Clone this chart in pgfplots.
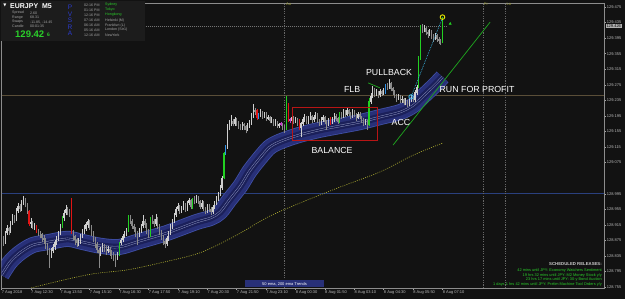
\documentclass[border=0pt]{standalone}
\usepackage{pgfplots}
\pgfplotsset{compat=1.18}
\usepackage{pgfplotstable}
\usepackage{fontspec}
\setmainfont{Liberation Sans}
\newfontfamily\dejavu{DejaVu Sans}

\definecolor{bgc}{HTML}{121212}
\definecolor{panel}{HTML}{1C1C1C}
\definecolor{cUp}{HTML}{CFCFCF}
\definecolor{cDn}{HTML}{8A8A8A}
\definecolor{cG}{HTML}{22D022}
\definecolor{cR}{HTML}{E01414}
\definecolor{cB}{HTML}{2E90E8}
\definecolor{cM}{HTML}{C040C8}
\definecolor{ribOut}{HTML}{283078}
\definecolor{ribIn}{HTML}{1B205A}
\definecolor{ribEdge}{HTML}{4050A6}
\definecolor{ribMid}{HTML}{9098C0}
\definecolor{emaY}{HTML}{B0B032}
\definecolor{hBrown}{HTML}{5A4E38}
\definecolor{hBlue}{HTML}{2A407E}
\definecolor{trendG}{HTML}{1FA81F}
\definecolor{boxR}{HTML}{B81515}
\definecolor{cyanC}{HTML}{3AB8E8}
\definecolor{yelC}{HTML}{E8E800}
\definecolor{tickc}{HTML}{BDBDBD}
\definecolor{pvsra}{HTML}{2C3CD0}
\definecolor{txtG}{HTML}{2AD02A}
\definecolor{olive}{HTML}{9A9A30}

\pgfplotsset{
  wick/.style 2 args={forget plot, mark=none, draw=#1,
    restrict expr to domain={\thisrow{k}}{#2:#2},
    quiver={u=0, v=\thisrow{h}-\thisrow{l}, every arrow/.append style={line width=0.5pt, draw=#1}},
    line width=0.5pt},
  body/.style 2 args={forget plot, mark=none, draw=#1,
    restrict expr to domain={\thisrow{k}}{#2:#2},
    quiver={u=0, v={abs(\thisrow{c}-\thisrow{o})+1}, every arrow/.append style={line width=1.15pt, draw=#1}},
    line width=1.15pt},
}

% price in units of 0.001 above 128.000 (e.g. 1475 = 129.475)
% k: 0 down, 1 up, 2 green, 3 red, 4 blue, 5 magenta
\pgfplotstableread{
i o h l c k
0 885 893 868 880 0
1 880 886 860 872 0
2 872 900 866 895 1
3 895 915 890 905 1
4 905 910 888 898 0
5 898 926 894 920 1
6 920 944 915 935 1
7 935 940 920 928 0
8 928 958 924 950 1
9 950 970 945 962 1
10 962 968 948 955 0
11 955 978 950 972 1
12 972 990 966 980 1
13 980 984 960 968 0
14 968 972 944 950 0
15 950 953 912 918 3
16 918 932 908 922 1
17 922 926 903 910 0
18 910 920 902 912 1
19 912 915 893 898 3
20 898 905 886 895 0
21 895 900 880 890 0
22 890 894 872 880 0
23 880 888 866 875 0
24 875 880 852 862 0
25 862 868 838 850 0
26 850 856 803 840 0
27 840 855 830 848 1
28 848 865 842 858 1
29 858 876 850 870 1
30 870 886 864 880 1
31 880 900 874 895 1
32 895 918 888 912 1
33 912 938 908 932 2
34 932 952 926 945 1
35 945 966 940 955 1
36 955 960 940 948 0
37 948 955 935 945 0
38 945 985 892 898 3
39 898 902 876 885 0
40 885 890 862 875 0
41 875 880 858 868 0
42 868 882 860 872 1
43 872 892 866 885 1
44 885 904 880 898 1
45 898 914 892 905 1
46 905 922 900 915 1
47 915 930 908 925 1
48 925 928 902 910 0
49 910 914 886 895 0
50 895 898 870 878 0
51 878 884 855 865 0
52 865 870 842 850 0
53 850 856 803 842 0
54 842 858 834 850 1
55 850 868 845 860 1
56 860 866 846 855 0
57 855 860 838 848 0
58 848 860 842 852 1
59 852 858 836 845 0
60 845 850 828 838 0
61 838 845 822 835 0
62 835 840 806 830 0
63 830 846 824 838 1
64 838 872 834 868 2
65 868 882 862 875 1
66 875 892 870 885 1
67 885 898 880 892 1
68 892 906 886 900 1
69 900 940 896 935 2
70 935 940 918 925 0
71 925 930 905 912 0
72 912 918 896 905 0
73 905 910 884 895 0
74 895 900 863 890 0
75 890 908 884 900 1
76 900 918 895 912 1
77 912 940 906 925 1
78 925 930 908 915 0
79 915 920 892 900 0
80 900 905 880 888 0
81 888 936 884 932 2
82 932 940 918 925 0
83 925 930 910 918 0
84 918 942 912 930 1
85 930 934 905 912 0
86 912 916 890 898 0
87 898 902 876 885 0
88 885 890 864 872 0
89 872 878 855 865 0
90 865 886 860 880 1
91 880 900 874 895 1
92 895 916 890 910 1
93 910 930 905 925 1
94 925 946 920 940 1
95 940 962 935 955 1
96 955 972 950 962 1
97 962 966 944 950 0
98 950 964 945 958 1
99 958 975 952 965 1
100 965 970 948 955 0
101 955 976 950 970 1
102 970 985 965 978 1
103 978 982 955 960 0
104 960 984 956 980 2
105 980 988 968 975 0
106 975 992 970 985 1
107 985 990 968 975 0
108 975 980 955 962 0
109 962 978 956 970 1
110 970 975 950 958 0
111 958 962 942 950 0
112 950 968 945 962 1
113 962 968 948 955 0
114 955 960 940 948 0
115 948 966 944 960 1
116 960 976 955 970 1
117 970 988 965 982 1
118 982 1000 976 992 1
119 992 1018 988 1010 1
120 1010 1040 1005 1035 1
121 1035 1102 1032 1098 2
122 1098 1120 1094 1115 4
123 1115 1175 1110 1165 1
124 1165 1185 1158 1172 1
125 1172 1197 1168 1180 1
126 1180 1188 1168 1175 0
127 1175 1192 1170 1185 1
128 1185 1190 1170 1178 0
129 1178 1182 1162 1170 0
130 1170 1175 1158 1165 0
131 1165 1180 1160 1172 1
132 1172 1178 1160 1168 0
133 1168 1172 1150 1160 0
134 1160 1176 1155 1170 1
135 1170 1184 1165 1175 1
136 1175 1202 1172 1195 1
137 1195 1225 1190 1210 1
138 1210 1216 1198 1205 0
139 1208 1212 1185 1190 3
140 1190 1202 1186 1196 4
141 1196 1212 1192 1205 1
142 1205 1208 1188 1195 0
143 1195 1206 1190 1200 1
144 1200 1204 1182 1188 0
145 1188 1198 1184 1192 1
146 1192 1196 1176 1182 0
147 1182 1192 1176 1185 1
148 1185 1188 1168 1175 0
149 1175 1186 1170 1178 1
150 1178 1182 1164 1170 0
151 1170 1178 1164 1172 1
152 1172 1180 1168 1175 5
153 1175 1178 1160 1168 0
154 1168 1172 1152 1165 0
155 1165 1245 1160 1230 2
156 1225 1228 1180 1185 3
157 1185 1190 1176 1182 5
158 1182 1196 1175 1190 1
159 1190 1194 1174 1180 0
160 1180 1192 1176 1185 1
161 1185 1190 1170 1178 0
162 1182 1186 1160 1165 3
163 1165 1180 1140 1175 1
164 1175 1192 1170 1185 1
165 1185 1200 1180 1192 1
166 1192 1196 1174 1180 0
167 1180 1195 1175 1188 1
168 1188 1204 1184 1195 1
169 1195 1198 1178 1185 0
170 1185 1198 1180 1190 1
171 1190 1206 1186 1198 1
172 1198 1202 1178 1185 0
173 1185 1188 1170 1178 0
174 1178 1192 1172 1185 1
175 1185 1198 1180 1192 1
176 1192 1195 1174 1180 0
177 1180 1184 1160 1175 0
178 1175 1190 1170 1182 1
179 1188 1192 1172 1178 3
180 1178 1192 1174 1185 1
181 1185 1202 1180 1195 1
182 1195 1200 1182 1188 0
183 1188 1192 1174 1180 0
184 1180 1205 1176 1200 2
185 1200 1206 1188 1195 0
186 1195 1212 1190 1205 1
187 1205 1210 1192 1198 0
188 1198 1215 1194 1208 1
189 1208 1212 1194 1200 0
190 1200 1206 1188 1195 0
191 1195 1212 1190 1205 1
192 1205 1210 1192 1198 0
193 1198 1202 1182 1190 0
194 1190 1206 1186 1200 1
195 1200 1204 1186 1192 0
196 1192 1196 1178 1185 0
197 1185 1190 1170 1178 0
198 1178 1188 1172 1182 1
199 1182 1185 1160 1172 0
200 1172 1240 1168 1232 2
201 1232 1255 1226 1245 1
202 1245 1272 1240 1262 1
203 1262 1266 1244 1250 0
204 1250 1264 1245 1255 1
205 1255 1260 1240 1248 0
206 1248 1265 1244 1258 1
207 1258 1262 1246 1252 0
208 1252 1268 1248 1260 1
209 1255 1278 1252 1272 4
210 1272 1280 1262 1268 0
211 1268 1290 1264 1278 1
212 1278 1282 1258 1265 0
213 1265 1270 1250 1258 0
214 1258 1262 1242 1248 0
215 1248 1252 1232 1240 0
216 1240 1252 1236 1245 1
217 1245 1248 1228 1235 0
218 1235 1245 1228 1238 1
219 1238 1242 1222 1228 0
220 1228 1240 1224 1232 1
221 1232 1236 1218 1225 0
222 1225 1242 1220 1235 1
223 1235 1248 1230 1240 1
224 1240 1246 1230 1236 0
225 1236 1262 1232 1255 1
226 1255 1275 1250 1268 1
227 1270 1350 1266 1345 2
228 1345 1428 1340 1420 2
229 1420 1432 1408 1415 0
230 1415 1428 1410 1420 1
231 1420 1424 1402 1410 0
232 1410 1416 1396 1405 0
233 1405 1418 1400 1412 1
234 1412 1415 1392 1400 0
235 1400 1406 1386 1395 0
236 1395 1408 1390 1402 1
237 1402 1406 1384 1392 0
238 1392 1398 1380 1388 0
239 1388 1394 1377 1385 0
240 1385 1449 1382 1426 2
}\candles

% EMA ribbon centre (bar index, price units)
\pgfplotstableread{
i m
0 786
4.6 819
10 843
17 863
26 871
36 879
44 871
54 861
64 858
75 873
90 894
106 922
114 933
119 948
124 979
130 1015
135 1053
141 1089
146 1115
152 1130
162 1146
173 1159
184 1169
195 1179
206 1192
217 1205
224 1222
230 1248
236 1275
240 1295
}\ribbon

% 200 EMA
\pgfplotstableread{
i v
13.9 750
31.8 771
49.8 789
68.3 799
86.3 817
108 843
127 886
145 935
162.4 971
184.2 1012
206 1051
224 1094
240 1125
}\emaslow

\begin{document}
\begin{tikzpicture}[x=1pt,y=1pt]
\fill[bgc] (0,0) rectangle (625,299);
\useasboundingbox (0,0) rectangle (625,299);
\begin{axis}[
  at={(1.5pt,11pt)}, anchor=south west, scale only axis,
  width=602.5pt, height=285pt,
  xmin=0, xmax=327.9, ymin=752.6, ymax=1485.3,
  axis line style={draw=black!45!white, line width=0.5pt},
  tick style={draw=black!35!white, line width=0.4pt},
  tick align=outside, major tick length=2pt,
  xtick pos=bottom, ytick pos=right, yticklabel pos=right,
  xtick={0,16,...,240},
  xticklabels={7 Aug 2018,7 Aug 12:30,7 Aug 13:50,7 Aug 15:10,7 Aug 16:30,7 Aug 17:50,7 Aug 19:10,7 Aug 20:30,7 Aug 21:50,7 Aug 23:10,8 Aug 00:30,8 Aug 01:50,8 Aug 03:10,8 Aug 04:30,8 Aug 05:50,8 Aug 07:10},
  ytick={755,795,835,875,915,955,995,1075,1115,1155,1195,1235,1275,1315,1355,1395,1435,1475},
  yticklabels={128.755,128.795,128.835,128.875,128.915,128.955,128.995,129.075,129.115,129.155,129.195,129.235,129.275,129.315,129.355,129.395,129.435,129.475},
  xticklabel style={anchor=north west, font=\fontsize{4}{4}\selectfont, text=tickc, inner sep=0.6pt, xshift=-0.5pt},
  yticklabel style={anchor=west, font=\fontsize{4}{4}\selectfont, text=tickc, inner sep=0.6pt},
]
% horizontal / vertical reference lines
\addplot[draw=hBrown, line width=0.6pt] coordinates {(0,1249) (327.9,1249)};
\addplot[draw=hBlue, line width=0.6pt] coordinates {(0,997) (327.9,997)};
\addplot[draw=black!55!white, line width=0.4pt, dash pattern=on 1pt off 1pt] coordinates {(0,1426) (242,1426)};
\addplot[draw=black!60!white, line width=0.4pt, dash pattern=on 1.2pt off 1.2pt] coordinates {(154,752.6) (154,1485.3)};
\addplot[draw=black!60!white, line width=0.4pt, dash pattern=on 1.2pt off 1.2pt] coordinates {(262,752.6) (262,1485.3)};
\addplot[draw=black!60!white, line width=0.4pt, dash pattern=on 1.2pt off 1.2pt] coordinates {(274,752.6) (274,1485.3)};

% EMA ribbon (stack of moving averages) drawn as layered bands
\addplot[draw=ribEdge, line width=16pt, smooth, line join=round] table[x=i, y=m]{\ribbon};
\addplot[draw=ribOut, line width=14.4pt, smooth, line join=round] table[x=i, y=m]{\ribbon};
\addplot[draw=ribIn, line width=7pt, smooth, line join=round] table[x=i, y=m]{\ribbon};
\addplot[draw=ribMid, line width=2.2pt, smooth, line join=round] table[x=i, y=m]{\ribbon};
\addplot[draw=ribIn, line width=1.4pt, smooth, line join=round] table[x=i, y=m]{\ribbon};

% 200 EMA dotted
\addplot[draw=emaY, line width=0.6pt, dash pattern=on 1pt off 1.2pt, smooth] table[x=i, y=v]{\emaslow};

% candles: wicks (low to high) and bodies (open to close)
\addplot[wick={cDn}{0}] table[x=i, y=l]{\candles};
\addplot[body={cDn}{0}] table[x=i, y expr={min(\thisrow{o},\thisrow{c})}]{\candles};
\addplot[wick={cUp}{1}] table[x=i, y=l]{\candles};
\addplot[body={cUp}{1}] table[x=i, y expr={min(\thisrow{o},\thisrow{c})}]{\candles};
\addplot[wick={cG}{2}] table[x=i, y=l]{\candles};
\addplot[body={cG}{2}] table[x=i, y expr={min(\thisrow{o},\thisrow{c})}]{\candles};
\addplot[wick={cR}{3}] table[x=i, y=l]{\candles};
\addplot[body={cR}{3}] table[x=i, y expr={min(\thisrow{o},\thisrow{c})}]{\candles};
\addplot[wick={cB}{4}] table[x=i, y=l]{\candles};
\addplot[body={cB}{4}] table[x=i, y expr={min(\thisrow{o},\thisrow{c})}]{\candles};
\addplot[wick={cM}{5}] table[x=i, y=l]{\candles};
\addplot[body={cM}{5}] table[x=i, y expr={min(\thisrow{o},\thisrow{c})}]{\candles};

% drawn objects
\addplot[draw=boxR, line width=0.7pt] coordinates {(158.1,1218) (204.4,1218) (204.4,1133) (158.1,1133) (158.1,1218)};
\addplot[draw=trendG, line width=0.7pt] coordinates {(213.1,1120) (265.9,1436)};
\addplot[draw=trendG, line width=0.7pt] coordinates {(199.5,1280) (206,1267)};
\addplot[draw=cyanC, line width=0.6pt, dash pattern=on 0.8pt off 0.9pt] coordinates {(222.9,1244) (240,1447)};
\addplot[only marks, mark=o, mark size=2.2pt, mark options={draw=cyanC, line width=0.8pt}] coordinates {(222.9,1244)};
\addplot[only marks, mark=o, mark size=2.3pt, mark options={draw=yelC, line width=0.9pt}] coordinates {(240,1449)};
\addplot[only marks, mark=triangle*, mark size=1.3pt, mark options={fill=cG, draw=cG}] coordinates {(244.2,1432)};

% labels
\node[text=white, font=\fontsize{8.8}{9}\selectfont] at (axis cs:190.8,1264) {FLB};
\node[text=white, font=\fontsize{8.8}{9}\selectfont] at (axis cs:210.9,1306) {PULLBACK};
\node[text=white, font=\fontsize{8.8}{9}\selectfont] at (axis cs:179.9,1107) {BALANCE};
\node[text=white, font=\fontsize{8.8}{9}\selectfont] at (axis cs:217.4,1179) {ACC};
\node[text=white, font=\fontsize{8.8}{9}\selectfont] at (axis cs:258.8,1263) {RUN FOR PROFIT};
\end{axis}

% top labels of vertical lines
\node[text=olive, font=\fontsize{4}{4}\selectfont, anchor=west, inner sep=0pt] at (286,295) {Au};
\node[text=olive, font=\fontsize{4}{4}\selectfont, anchor=west, inner sep=0pt] at (484,295) {Fr};
\node[text=olive, font=\fontsize{4}{4}\selectfont, anchor=west, inner sep=0pt] at (506.5,295) {Lo};

% current price box
\node[fill=black!30!white, text=black, font=\fontsize{4}{4}\selectfont, inner sep=0.8pt, anchor=west] at (605.5,273) {129.426};

% info panel
\fill[panel] (1,258) rectangle (145,298);
\node[text=white, font=\dejavu\fontsize{4}{4}\selectfont, inner sep=0pt] at (5,294) {▼};
\node[text=white, font=\bfseries\fontsize{7}{7}\selectfont, anchor=west, inner sep=0pt] at (10,293) {EURJPY\ \ M5};
\begin{scope}[every node/.style={text=black!35!white, font=\fontsize{3.6}{3.6}\selectfont, anchor=west, inner sep=0pt}]
\node at (12,286) {Spread}; \node at (30,286) {2.60};
\node at (12,281.5) {Range}; \node at (30,281.5) {68.31};
\node at (12,277) {Swaps}; \node at (30,277) {-11.85, -14.45};
\node at (12,272.5) {Candle}; \node at (30,272.5) {00:01:35};
\end{scope}
\node[text=txtG, font=\bfseries\fontsize{9.5}{9.5}\selectfont, anchor=west, inner sep=0pt] at (15,265) {129.42};
\node[text=txtG, font=\bfseries\fontsize{5}{5}\selectfont, anchor=west, inner sep=0pt] at (47,264) {6};
\begin{scope}[every node/.style={text=pvsra, font=\fontsize{6.5}{6.5}\selectfont, inner sep=0pt}]
\node at (70,292) {P}; \node at (70,285) {V}; \node at (70,278.5) {S}; \node at (70,272) {R}; \node at (70,265.5) {A};
\end{scope}
\begin{scope}[every node/.style={font=\fontsize{3.6}{3.6}\selectfont, anchor=west, inner sep=0pt}]
\node[text=black!35!white] at (84,294) {02:16 PM}; \node[text=txtG] at (105,294) {Sydney};
\node[text=black!35!white] at (84,289) {01:16 PM}; \node[text=txtG] at (105,289) {Tokyo};
\node[text=black!35!white] at (84,284) {12:16 PM}; \node[text=txtG] at (105,284) {Hongkong};
\node[text=black!35!white] at (84,278.5) {07:16 AM}; \node[text=black!35!white] at (105,278.5) {Helsinki (M)};
\node[text=black!35!white] at (84,273.5) {06:16 AM}; \node[text=black!35!white] at (105,273.5) {Frankfurt (L)};
\node[text=black!35!white] at (84,269) {05:16 AM}; \node[text=black!35!white] at (105,269) {London (Str1)};
\node[text=black!35!white] at (84,264) {12:16 AM}; \node[text=black!35!white] at (105,264) {NewYork};
\end{scope}

% 50 ema / 200 ema label
\fill[ribOut] (245,11.5) rectangle (324,18.5);
\node[text=white, font=\fontsize{4}{4}\selectfont, inner sep=0pt] at (284.5,15) {50 ema, 200 ema Trends};

% scheduled releases
\begin{scope}[every node/.style={anchor=east, inner sep=0pt}]
\node[text=black!20!white, font=\bfseries\fontsize{4.3}{4.3}\selectfont] at (602,34.5) {SCHEDULED RELEASES:};
\node[text=txtG, font=\fontsize{3.9}{3.9}\selectfont] at (602,28.5) {42 mins until JPY: Economy Watchers Sentiment};
\node[text=txtG, font=\fontsize{3.9}{3.9}\selectfont] at (602,24) {19 hrs 32 mins until JPY: M2 Money Stock y/y};
\node[text=txtG, font=\fontsize{3.9}{3.9}\selectfont] at (602,19.5) {23 hrs 17 mins until JPY: 30-y Bond Auction};
\node[text=txtG, font=\fontsize{3.9}{3.9}\selectfont] at (602,15) {1 days 1 hrs 42 mins until JPY: Prelim Machine Tool Orders y/y};
\end{scope}
\end{tikzpicture}
\end{document}
